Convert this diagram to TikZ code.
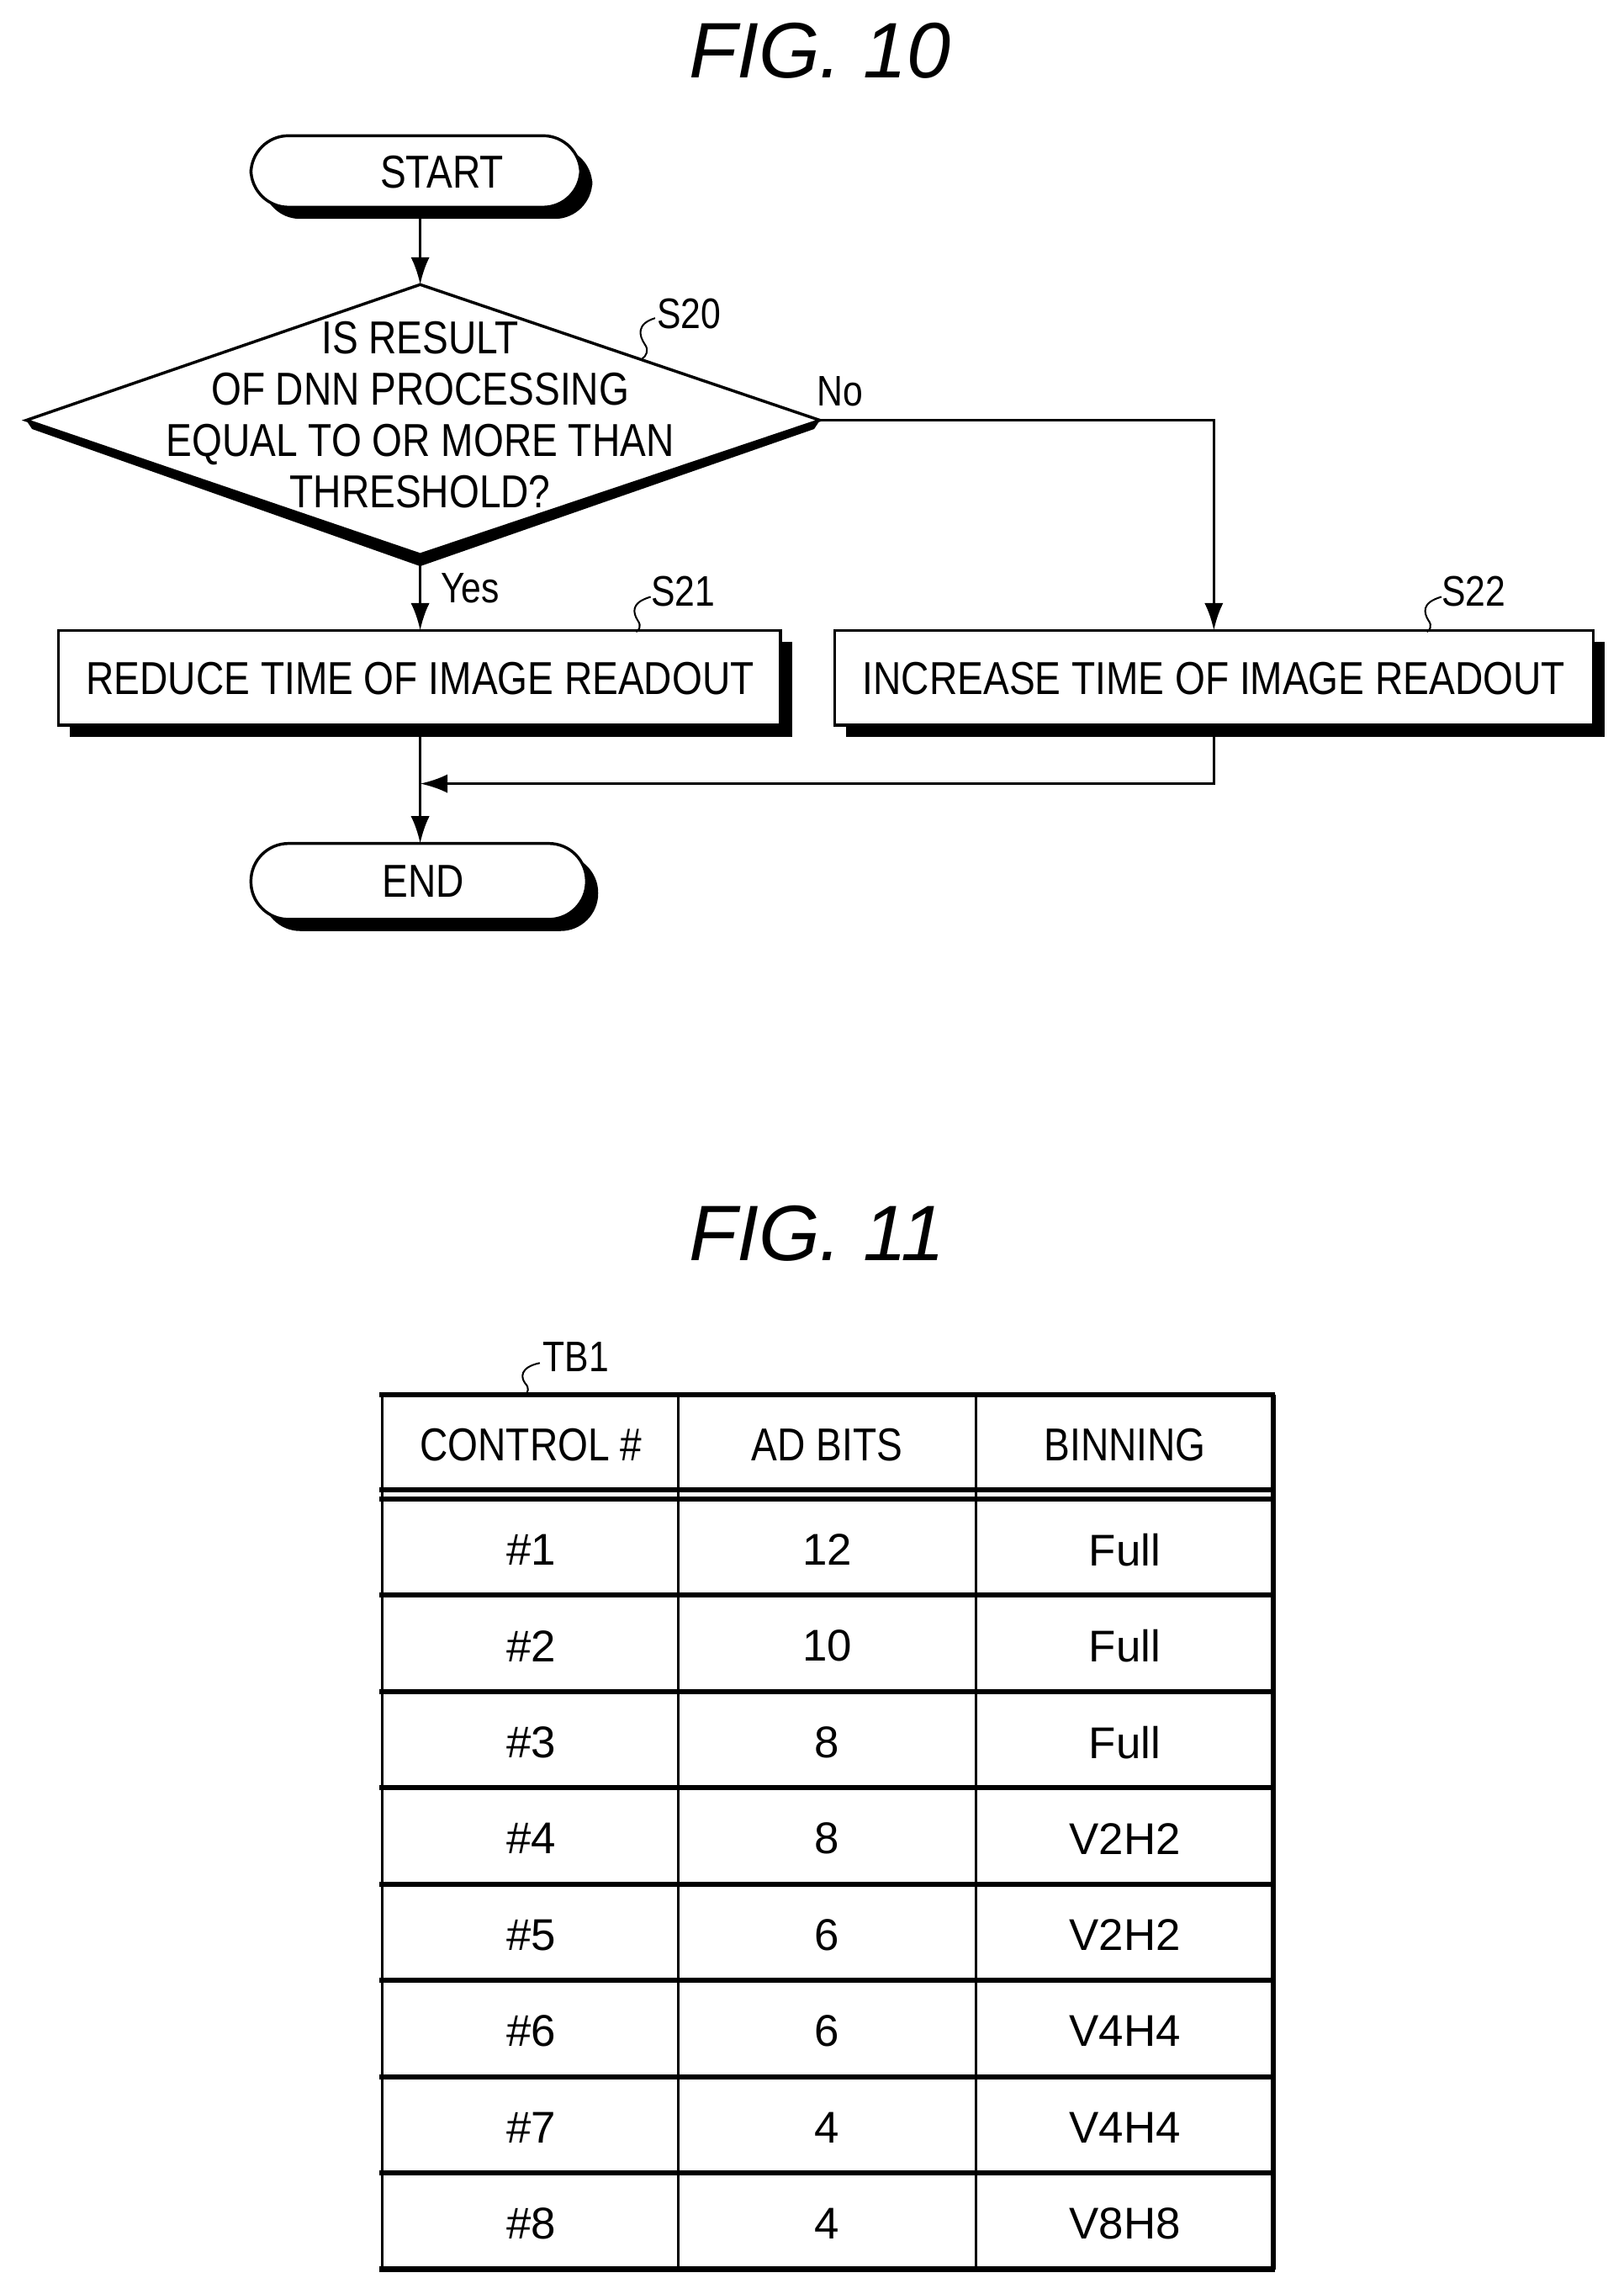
\documentclass[tikz,border=0pt]{standalone}
\usepackage{fontspec}
\setmainfont{Liberation Sans}[FakeStretch=0.84]
\newfontfamily\wide{Liberation Sans}
\usetikzlibrary{arrows.meta}
\begin{document}
\begin{tikzpicture}[x=0.03cm,y=-0.03cm,
  ln/.style={line width=1.7pt},
  arr/.style={ln,-{Latex[length=16pt,width=11pt]}},
  txt/.style={font=\fontsize{27}{31}\selectfont,inner sep=0},
  lab/.style={font=\fontsize{25}{29}\selectfont,inner sep=0,anchor=west},
  sq/.style={line width=1pt},
  hl/.style={line width=3pt}]
\useasboundingbox (0,0) rectangle (1113,1572);
\node[inner sep=0,font=\wide\itshape\fontsize{46}{50}\selectfont] (f10) at (562,35) {FIG. 10};
% START
\fill[rounded corners=22] (180,101) rectangle (406,150);
\draw[ln,fill=white,rounded corners=22] (172,93) rectangle (398,142);
\node[txt] (start) at (303,118) {START};
\coordinate (sb) at (288,142);
% diamond
\coordinate (dT) at (288,195); \coordinate (dB) at (288,380);
\coordinate (dL) at (18,288); \coordinate (dR) at (562,288);
\fill (22,294) -- (288,388) -- (558,294) -- (562,288) -- (288,380) -- (18,288) -- cycle;
\draw[ln,fill=white] (dT) -- (dR) -- (dB) -- (dL) -- cycle;
\node[txt,align=center,font=\fontsize{27}{30}\selectfont] (q) at (288,284) {IS RESULT\\OF DNN PROCESSING\\EQUAL TO OR MORE THAN\\THRESHOLD?};
\node[lab] (s20) at (450,215) {S20};
\draw[sq] (449,218) .. controls (436,222) and (438,230) .. (442,236) .. controls (445,240) and (443,244) .. (440,246);
\node[lab] (no) at (560,268) {No};
\node[lab] (yes) at (302,403) {Yes};
% boxes
\fill (48,440) rectangle (543,505);
\draw[ln,fill=white] (40,432) rectangle (535,497);
\node[txt] (b1) at (288,465) {REDUCE TIME OF IMAGE READOUT};
\fill (580,440) rectangle (1100,505);
\draw[ln,fill=white] (572,432) rectangle (1092,497);
\node[txt] (b2) at (832,465) {INCREASE TIME OF IMAGE READOUT};
\node[lab] (s21) at (446,405) {S21};
\draw[sq] (446,409) .. controls (432,413) and (434,420) .. (437,425) .. controls (440,429) and (438,432) .. (436,433);
\node[lab] (s22) at (988,405) {S22};
\draw[sq] (988,409) .. controls (974,413) and (976,420) .. (979,425) .. controls (982,429) and (980,432) .. (978,433);
% END
\fill[rounded corners=22] (180,586) rectangle (410,638);
\draw[ln,fill=white,rounded corners=22] (172,578) rectangle (402,630);
\node[txt] (end) at (290,604) {END};
% connectors
\coordinate (b1t) at (288,432); \coordinate (b2t) at (832,432);
\coordinate (b1b) at (288,497); \coordinate (b2b) at (832,497);
\coordinate (et) at (288,578); \coordinate (j) at (288,537);
\draw[arr] (sb) -- (dT);
\draw[arr] (dB) -- (b1t);
\draw[arr] (dR) -| (b2t);
\draw[arr] (b1b) -- (et);
\draw[arr] (b2b) |- (j);
% FIG 11
\node[inner sep=0,font=\wide\itshape\fontsize{46}{50}\selectfont] (f11) at (560,845) {FIG. 11};
\node[lab] (tb1) at (372,930) {TB1};
\draw[sq] (370,934) .. controls (356,937) and (357,944) .. (360,948) .. controls (363,951) and (362,954) .. (360,956);
\draw[ln] (262,956) -- (262,1555);
\draw[ln] (465,956) -- (465,1555);
\draw[ln] (669,956) -- (669,1555);
\draw[hl] (873,956) -- (873,1555);
\draw[hl] (260,956) -- (874,956);
\draw[hl] (260,1021) -- (874,1021);
\foreach \yy in {1027,1093,1159,1225,1291,1357,1423,1489,1555} \draw[hl] (260,\yy) -- (874,\yy);
\node[txt] (h1) at (364,990) {CONTROL \#};
\node[txt] (h2) at (567,990) {AD BITS};
\node[txt] (h3) at (771,990) {BINNING};
\foreach \i/\a/\b [count=\k from 0] in {1/12/Full,2/10/Full,3/8/Full,4/8/V2H2,5/6/V2H2,6/6/V4H4,7/4/V4H4,8/4/V8H8}{
  \node[txt,font=\wide\fontsize{26}{30}\selectfont] (c\i) at (364,1062+66*\k) {\#\i};
  \node[txt,font=\wide\fontsize{26}{30}\selectfont] (a\i) at (567,1062+66*\k) {\a};
  \node[txt,font=\wide\fontsize{26}{30}\selectfont] (n\i) at (771,1062+66*\k) {\b};
}
\end{tikzpicture}
\end{document}
